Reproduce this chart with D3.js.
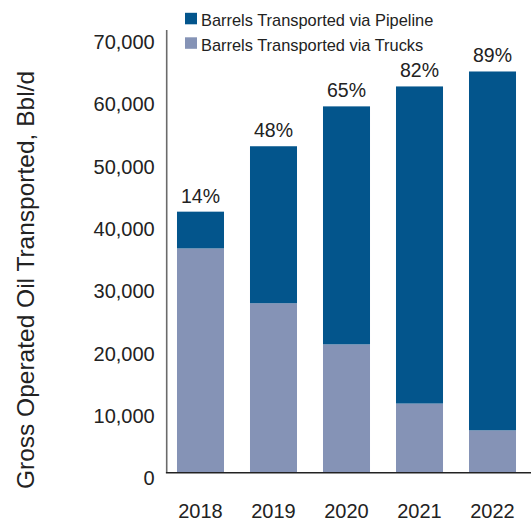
<!DOCTYPE html>
<html>
<head>
<meta charset="utf-8">
<script src="https://cdn.jsdelivr.net/npm/d3@7"></script>
<style>
  html, body { margin: 0; padding: 0; background: #fff; }
  svg { display: block; font-family: "Liberation Sans", Arial, sans-serif; }
</style>
</head>
<body>
<svg id="chart" width="531" height="523"></svg>
<script>
// Gross operated oil transported by mode, Bbl/d
const years = ["2018", "2019", "2020", "2021", "2022"];
const trucks = [36000, 27200, 20600, 11100, 6800];
const pipeline = [5900, 25200, 38200, 50900, 57600];
const yTicks = [0, 10000, 20000, 30000, 40000, 50000, 60000, 70000];
const seriesNames = ["Barrels Transported via Pipeline", "Barrels Transported via Trucks"];

const colors = { pipeline: "#03558c", trucks: "#8593b6" };
const textColor = "#222";

const svg = d3.select("#chart");

const axisX = 166.7;
const x = d3.scaleBand()
  .domain(years)
  .range([axisX, 526.3])
  .paddingInner(0.356)
  .paddingOuter(0.141);

const y = d3.scaleLinear()
  .domain([0, 70000])
  .range([472.7, 472.7 - 7 * 62.3]);

// stacked data: trucks on the bottom, pipeline on top
const rows = years.map((yr, i) => ({ year: yr, trucks: trucks[i], pipeline: pipeline[i] }));
const stack = d3.stack().keys(["trucks", "pipeline"]);
const layers = stack(rows);

svg.append("g")
  .selectAll("g")
  .data(layers)
  .join("g")
  .attr("fill", d => colors[d.key])
  .selectAll("rect")
  .data(d => d)
  .join("rect")
  .attr("x", d => x(d.data.year))
  .attr("width", x.bandwidth())
  .attr("y", d => y(d[1]))
  .attr("height", d => y(d[0]) - y(d[1]));

// pipeline share labels
svg.append("g")
  .selectAll("text")
  .data(rows)
  .join("text")
  .attr("x", d => x(d.year) + x.bandwidth() / 2)
  .attr("y", d => y(d.trucks + d.pipeline) - 9)
  .attr("text-anchor", "middle")
  .attr("font-size", "19.5px")
  .attr("fill", textColor)
  .text(d => Math.round(d.pipeline / (d.trucks + d.pipeline) * 100) + "%");

// y axis
const yAxis = d3.axisLeft(y)
  .tickValues(yTicks)
  .tickFormat(d3.format(","))
  .tickSize(0)
  .tickPadding(12);

const gy = svg.append("g")
  .attr("transform", `translate(${axisX},0)`)
  .call(yAxis);
gy.select(".domain").remove();
gy.selectAll("text")
  .attr("font-size", "20px")
  .attr("font-family", "Liberation Sans, Arial, sans-serif")
  .attr("fill", textColor)
  .attr("dy", "0.6em");

svg.append("line")
  .attr("x1", axisX).attr("x2", axisX)
  .attr("y1", 30).attr("y2", y(0))
  .attr("stroke", "#6b6b6b")
  .attr("stroke-width", 1.6);

// x axis
const xAxis = d3.axisBottom(x).tickSize(0).tickPadding(0);
const gx = svg.append("g")
  .attr("transform", `translate(0,${y(0)})`)
  .call(xAxis);
gx.select(".domain").remove();
gx.selectAll("text")
  .attr("font-size", "20px")
  .attr("font-family", "Liberation Sans, Arial, sans-serif")
  .attr("fill", textColor)
  .attr("dy", null)
  .attr("y", 45.8);

svg.append("line")
  .attr("x1", axisX - 0.8).attr("x2", 531)
  .attr("y1", y(0)).attr("y2", y(0))
  .attr("stroke", "#222")
  .attr("stroke-width", 1.6);

// y axis title
svg.append("text")
  .attr("transform", "translate(33.5,280) rotate(-90)")
  .attr("text-anchor", "middle")
  .attr("font-size", "24.5px")
  .attr("fill", textColor)
  .text("Gross Operated Oil Transported, Bbl/d");

// legend
const legend = svg.append("g")
  .selectAll("g")
  .data(seriesNames)
  .join("g")
  .attr("transform", (d, i) => `translate(185,${26 + i * 24.5})`);

legend.append("rect")
  .attr("x", 0).attr("y", -13.2)
  .attr("width", 12).attr("height", 11.5)
  .attr("fill", (d, i) => i === 0 ? colors.pipeline : colors.trucks);

legend.append("text")
  .attr("x", 16).attr("y", 0)
  .attr("font-size", "16.4px")
  .attr("fill", textColor)
  .text(d => d);
</script>
</body>
</html>
